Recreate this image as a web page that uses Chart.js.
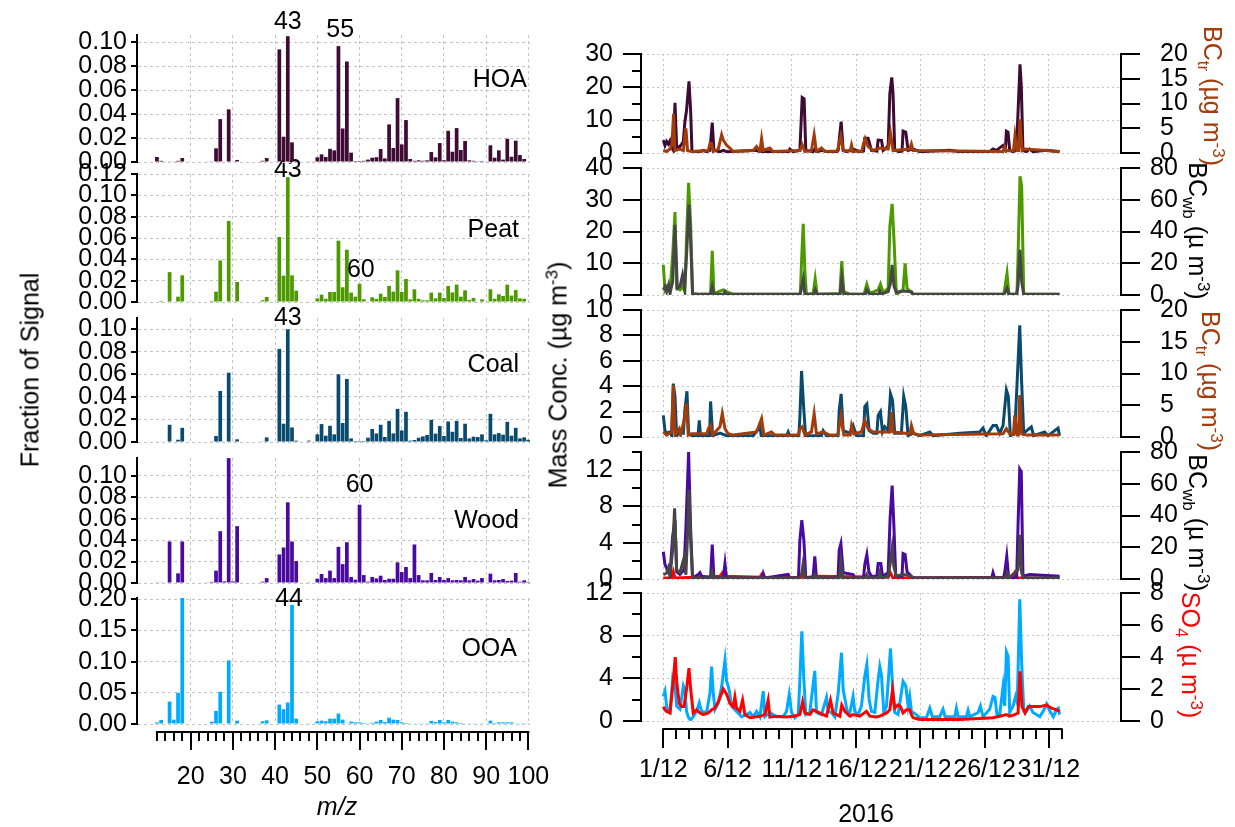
<!DOCTYPE html>
<html>
<head>
<meta charset="utf-8">
<script src="https://cdn.jsdelivr.net/npm/chart.js@4.4.1/dist/chart.umd.min.js"></script>
<style>
html, body { margin: 0; padding: 0; background: #fff; }
#wrap { position: relative; width: 1235px; height: 827px; overflow: hidden; font-family: 'Liberation Sans', Arial, sans-serif; }
#wrap canvas { position: absolute; left: 0; top: 0; }
.t { position: absolute; font-size: 25px; white-space: nowrap; color: #000; line-height: 1; }
.t sub, .t sup { font-size: 17px; line-height: 0; }
.c { transform: translate(-50%, -50%); }
.re { transform: translate(-100%, -50%); }
.r90 { transform: translate(-50%, -50%) rotate(90deg); }
.rm90 { transform: translate(-50%, -50%) rotate(-90deg); }
</style>
</head>
<body>
<div id="wrap">
  <div class="t rm90" style="left:30px;top:370px">Fraction of Signal</div>
  <div class="t rm90" style="left:558px;top:375px">Mass Conc. (µg m<sup>-3</sup>)</div>
  <div class="t c" style="left:337px;top:806px;font-style:italic">m/z</div>
  <div class="t c" style="left:866px;top:813px">2016</div>

  <div class="t re" style="left:527px;top:78px">HOA</div>
  <div class="t re" style="left:519px;top:228px">Peat</div>
  <div class="t re" style="left:519px;top:363px">Coal</div>
  <div class="t re" style="left:519px;top:519px">Wood</div>
  <div class="t re" style="left:517px;top:647px">OOA</div>

  <div class="t r90" style="left:1212px;top:96px;color:#a33c0b">BC<sub>tr</sub> (µg m<sup>-3</sup>)</div>
  <div class="t r90" style="left:1197px;top:231px">BC<sub>wb</sub> (µ m<sup>-3</sup>)</div>
  <div class="t r90" style="left:1210px;top:381px;color:#a33c0b">BC<sub>tr</sub> (µg m<sup>-3</sup>)</div>
  <div class="t r90" style="left:1197px;top:523px">BC<sub>wb</sub> (µ m<sup>-3</sup>)</div>
  <div class="t r90" style="left:1190px;top:655px;color:#ff0000">SO<sub>4</sub> (µ m<sup>-3</sup>)</div>
</div>
<script>
// ---- mass spectra, fraction of signal for m/z 12..100 ----
const mzStart = 12;
const hoaMS = [
  0.0042,0.001,0.0005,0.0005,0.0003,0.001,0.0033,0,0,0,
  0,0,0.0003,0.0005,0.0114,0.0358,0,0.0439,0,0.0017,
  0,0,0,0,0,0.001,0.0033,0,0,0.094,
  0.0211,0.105,0.0164,0.001,0,0,0.0003,0.0005,0.0039,0.0064,
  0.0042,0.011,0.0097,0.0967,0.028,0.0839,0.0078,0.0008,0.0008,0.001,
  0.002,0.0036,0.004,0.0108,0.003,0.0314,0.0117,0.0533,0.0147,0.035,
  0.0025,0.001,0.0014,0.001,0.0014,0.0083,0.0039,0.0158,0.0015,0.026,
  0.0086,0.0283,0.01,0.0175,0.0014,0.001,0.0006,0.0008,0,0.0139,
  0.0036,0.0097,0.002,0.0194,0.0044,0.0178,0.0058,0.0025,0
];
const peatMS = [
  0,0.001,0,0.028,0.0005,0.005,0.025,0,0,0,
  0,0,0.0005,0.001,0.0097,0.039,0.0005,0.076,0.0005,0.0188,
  0,0,0,0,0,0.0016,0.0047,0,0,0.061,
  0.0247,0.117,0.025,0.0106,0,0,0.0005,0.0005,0.0034,0.0069,
  0.003,0.0094,0.0094,0.0575,0.0138,0.049,0.0088,0.005,0.017,0.0025,
  0.0005,0.0044,0.003,0.0078,0.0047,0.015,0.0097,0.0297,0.0094,0.0216,
  0.0025,0.0119,0.003,0.0016,0.0016,0.0088,0.0034,0.0088,0.0038,0.015,
  0.009,0.0163,0.005,0.011,0.002,0.0038,0.0005,0.0025,0.0005,0.0119,
  0.003,0.0072,0.0056,0.0163,0.006,0.0113,0.0034,0.003,0
];
const coalMS = [
  0.0005,0.0005,0,0.0153,0,0.002,0.0126,0,0,0,
  0,0,0,0.0003,0.0053,0.0453,0,0.0615,0.0003,0.0024,
  0,0,0,0,0,0.0006,0.0041,0,0,0.0826,
  0.0162,0.1,0.0129,0.0012,0,0,0.0012,0,0.0068,0.0159,
  0.0056,0.0144,0.0068,0.06,0.0168,0.0559,0.0032,0.0009,0.0009,0.0009,
  0.0038,0.0115,0.0076,0.0153,0.0044,0.0188,0.0076,0.0294,0.0103,0.0268,
  0.0012,0.0018,0.0038,0.005,0.0062,0.0197,0.0074,0.0141,0.0053,0.0182,
  0.0091,0.0188,0.0035,0.0162,0.0032,0.0047,0.0044,0.0068,0.0015,0.025,
  0.0068,0.0079,0.0065,0.0179,0.0056,0.0126,0.0032,0.0041,0.002
];
const woodMS = [
  0.0003,0.0006,0,0.0387,0.0005,0.009,0.0387,0,0,0,
  0,0,0.0003,0.001,0.0115,0.0483,0.0015,0.1164,0.0015,0.053,
  0,0,0,0,0,0.0012,0.0046,0,0,0.0266,
  0.0331,0.0752,0.0387,0.0204,0,0,0.0006,0.0005,0.004,0.0084,
  0.0046,0.0115,0.0046,0.0337,0.0176,0.038,0.0056,0.0031,0.073,0.0074,
  0.0012,0.0056,0.0043,0.0068,0.0028,0.004,0.004,0.0192,0.0102,0.0149,
  0.0046,0.0359,0.0074,0.0025,0.0025,0.0093,0.0028,0.0056,0.0028,0.0046,
  0.0025,0.0028,0.0025,0.0056,0.0025,0.0037,0.0022,0.0046,0.0006,0.0087,
  0.0025,0.0028,0.0037,0.0019,0.0022,0.0093,0.0012,0.0025,0.001
];
const ooaMS = [
  0.0027,0.0065,0,0.036,0.007,0.05,0.203,0,0,0,
  0,0,0.001,0.0038,0.021,0.0516,0,0.102,0,0.0054,
  0,0,0,0,0,0.0043,0.0059,0,0,0.0312,
  0.0237,0.0344,0.191,0.0086,0,0,0.0005,0.001,0.0043,0.0054,
  0.0043,0.0086,0.0086,0.0167,0.007,0.001,0.0038,0.0027,0.0027,0.0016,
  0.001,0.002,0.0038,0.0065,0.0032,0.0102,0.007,0.0065,0.0027,0.0016,
  0.001,0.001,0.001,0.001,0.001,0.0048,0.0032,0.0065,0.0027,0.0065,
  0.0038,0.0027,0.0016,0.001,0.001,0.001,0.001,0.001,0.001,0.0054,
  0.0016,0.0027,0.0027,0.0027,0.0027,0.001,0.0005,0.0005,0.0005
];
// peak labels: [m/z, height, text]
const hoaPeaks = [[43, 0.117, '43'], [55.4, 0.110, '55']];
const peatPeaks = [[43, 0.1238, '43'], [60.3, 0.030, '60']];
const coalPeaks = [[43, 0.1097, '43']];
const woodPeaks = [[60, 0.0912, '60']];
const ooaPeaks = [[43.3, 0.200, '44']];
const mzMajor = [20, 30, 40, 50, 60, 70, 80, 90, 100];

// ---- time series: [days since 1 Dec 2016, value] ----
const hoaTS = [[0,3.9],[0.13,2.3],[0.26,3.5],[0.39,2.7],[0.52,3.7],[0.65,1.6],[0.78,0.8],[0.91,15.2],[1.04,1.6],[1.3,2.0],[1.43,2.7],[1.56,3.5],[1.68,9.4],[1.81,13.0],[2.0,21.7],[2.13,12.5],[2.23,0.8],[2.33,0.4],[2.85,0.4],[3.11,0.8],[3.37,0.4],[3.63,0.8],[3.81,9.2],[3.94,0.8],[4.41,0.4],[4.67,0.8],[4.92,0.4],[7.26,0.8],[7.52,0.4],[9.75,0.4],[9.85,1.2],[10.11,0.4],[10.63,0.8],[10.81,16.8],[10.96,16.4],[11.09,0.8],[11.66,0.4],[11.79,1.2],[11.92,0.4],[12.44,0.8],[12.7,0.4],[13.5,0.4],[13.61,0.8],[13.84,9.5],[14.0,0.8],[14.26,0.4],[14.77,1.2],[15.29,0.4],[15.58,0.6],[15.68,4.5],[15.94,4.5],[16.2,0.8],[16.62,0.6],[16.72,3.9],[16.98,3.8],[17.11,0.8],[17.37,1.6],[17.5,2.3],[17.63,18.0],[17.78,22.9],[17.88,18.0],[18.01,0.8],[18.4,0.4],[18.58,0.6],[18.66,6.6],[18.87,6.3],[19.05,0.8],[19.44,1.2],[19.96,0.4],[22.29,0.8],[23.07,0.4],[25.4,0.4],[25.66,1.2],[25.92,0.8],[26.44,2.3],[26.62,1.0],[26.7,6.6],[26.83,6.3],[26.96,0.8],[27.22,0.4],[27.48,0.8],[27.63,14.5],[27.76,26.9],[27.86,20.3],[27.99,0.8],[28.25,0.4],[28.51,1.2],[28.77,0.4],[29.8,0.8],[30.84,0.4]];
const bcTr1TS = [[0,0.5],[0.26,0.3],[0.52,0.8],[0.67,1.6],[0.8,7.9],[0.91,0.5],[1.3,0.8],[1.56,0.5],[1.76,5.0],[1.89,0.5],[2.2,0.3],[3.5,0.5],[3.63,1.9],[3.76,1.9],[3.89,0.3],[4.28,0.8],[4.54,3.7],[4.67,2.6],[4.92,1.6],[5.18,1.0],[5.44,0.3],[7.0,0.5],[7.26,1.3],[7.52,0.3],[7.65,2.9],[7.78,0.5],[8.29,1.0],[8.55,0.3],[10.63,0.5],[10.81,1.7],[11.02,0.3],[11.53,0.5],[11.74,3.7],[11.92,0.3],[12.31,1.0],[12.57,0.3],[13.5,0.4],[13.61,1.0],[13.82,3.4],[14.0,0.5],[14.55,0.4],[14.65,1.6],[14.77,0.3],[15.45,0.4],[15.55,1.6],[15.71,2.9],[15.94,1.3],[16.33,0.5],[16.85,1.0],[17.5,0.8],[17.68,4.0],[17.88,0.5],[19.18,0.8],[19.31,1.8],[19.44,0.5],[26.44,0.3],[26.57,1.3],[26.7,0.5],[27.25,0.4],[27.37,3.5],[27.53,0.5],[27.65,0.5],[27.76,6.8],[27.92,0.5],[28.15,0.8],[30.84,0.3]];
const peatTS = [[0,9.5],[0.13,1.6],[0.26,2.6],[0.52,1.1],[0.73,12.6],[0.91,26.1],[1.04,2.1],[1.3,1.6],[1.5,2.6],[1.68,1.1],[1.81,17.9],[1.97,35.3],[2.13,22.1],[2.28,0.5],[2.85,0.2],[3.68,0.2],[3.81,13.9],[3.94,0.5],[4.15,0.8],[4.67,1.6],[4.92,1.1],[5.44,0.2],[10.66,0.2],[10.78,12.6],[10.89,22.4],[11.02,7.4],[11.14,0.2],[11.66,0.5],[11.82,5.1],[11.97,0.2],[13.74,0.5],[13.89,10.7],[14.05,1.1],[14.52,0.2],[15.6,0.2],[15.68,1.1],[15.84,3.4],[16.07,0.5],[16.72,1.6],[16.9,3.4],[17.11,0.8],[17.5,2.1],[17.63,21.6],[17.81,28.7],[17.96,16.8],[18.14,0.2],[18.66,1.6],[18.82,10.0],[18.97,2.1],[19.44,0.2],[26.5,0.2],[26.75,6.8],[26.9,0.2],[27.52,0.2],[27.61,12.6],[27.76,37.4],[27.89,34.2],[28.05,0.2],[30.84,0.2]];
const bcWb2TS = [[0,3.2],[0.13,5.3],[0.26,2.1],[0.41,6.3],[0.52,1.1],[0.73,8.4],[0.91,44.2],[1.09,4.2],[1.3,5.3],[1.5,12.6],[1.66,4.2],[1.81,25.3],[2.0,56.8],[2.13,33.7],[2.28,0.4],[3.68,0.4],[3.81,5.3],[3.94,0.4],[4.7,0.4],[4.8,2.1],[4.92,0.4],[10.65,0.4],[10.78,5.3],[10.89,9.9],[11.02,0.4],[11.7,0.4],[11.82,3.2],[11.97,0.4],[13.76,0.4],[13.89,10.5],[14.05,0.4],[15.72,0.4],[15.84,3.2],[16.07,0.4],[16.75,0.4],[16.85,2.5],[16.95,0.6],[17.5,2.1],[17.68,7.4],[17.81,18.9],[17.96,5.3],[18.14,1.7],[18.66,2.5],[19.31,2.1],[19.44,0.4],[26.45,0.4],[26.57,1.1],[26.75,4.2],[26.9,0.4],[27.5,0.4],[27.61,6.3],[27.76,28.4],[27.89,8.4],[28.05,0.4],[30.84,0.4]];
const coalTS = [[0,1.7],[0.13,0.5],[0.26,0.3],[0.52,0.4],[0.65,0.1],[0.78,4.2],[0.91,3.2],[1.04,0.1],[1.3,0.4],[1.56,0.3],[1.68,2.1],[1.84,3.6],[1.97,0.3],[2.2,0.1],[2.7,0.1],[2.8,1.3],[2.9,0.1],[3.6,0.1],[3.68,2.8],[3.84,0.1],[4.41,0.3],[4.92,0.1],[7.0,0.1],[7.52,0.8],[7.62,0.1],[9.6,0.1],[9.72,0.4],[9.85,0.1],[10.55,0.1],[10.63,1.6],[10.76,5.2],[10.89,2.9],[11.07,0.1],[12.3,0.1],[12.44,0.5],[12.7,0.1],[13.6,0.1],[13.69,2.1],[13.84,3.4],[14.0,0.5],[14.52,0.3],[14.77,0.9],[15.03,0.1],[15.58,0.1],[15.68,2.4],[15.84,2.6],[16.02,0.5],[16.33,0.3],[16.62,0.3],[16.72,1.7],[16.9,2.0],[17.06,0.4],[17.24,0.8],[17.5,0.5],[17.68,3.4],[17.84,2.9],[18.01,0.3],[18.53,0.3],[18.71,3.2],[18.87,2.4],[19.05,0.1],[19.44,0.3],[19.96,0.1],[20.74,0.4],[21.0,0.1],[23.07,0.3],[24.62,0.4],[24.88,0.7],[25.14,0.1],[25.66,0.9],[25.92,0.9],[26.18,0.3],[26.44,0.9],[26.7,3.7],[26.85,3.2],[27.01,0.1],[27.35,0.3],[27.53,4.2],[27.74,8.8],[27.89,4.2],[28.05,0.3],[28.64,0.8],[28.82,0.1],[29.68,0.4],[29.94,0.1],[30.72,0.7],[30.84,0.1]];
const bcTr3TS = [[0,0.8],[0.26,0.3],[0.65,0.8],[0.78,8.2],[0.91,0.3],[1.24,1.3],[1.35,0.3],[1.68,3.2],[1.81,5.3],[1.94,0.3],[2.2,0.5],[3.4,0.5],[3.5,1.3],[3.68,1.8],[3.84,0.3],[4.41,1.6],[4.59,3.7],[4.8,1.3],[5.05,0.5],[5.44,0.3],[7.26,0.8],[7.65,2.9],[7.83,0.3],[8.42,0.8],[8.68,0.3],[10.5,0.3],[10.63,1.3],[10.81,1.6],[11.02,0.3],[11.53,0.8],[11.74,3.7],[11.92,0.5],[12.44,0.8],[12.96,0.3],[13.58,0.3],[13.69,1.6],[13.84,3.4],[14.05,0.3],[14.55,0.3],[14.65,1.8],[14.83,0.5],[15.42,0.8],[15.68,2.6],[15.94,1.3],[16.33,0.8],[17.63,0.8],[17.76,3.9],[17.88,0.8],[19.2,0.5],[19.31,1.8],[19.49,0.5],[19.96,0.3],[26.44,0.5],[26.7,1.3],[26.96,0.5],[27.25,0.4],[27.35,3.4],[27.53,0.3],[27.64,0.3],[27.74,6.6],[27.89,0.5],[28.25,0.3],[30.84,0.3]];
const woodTS = [[0,3.0],[0.13,1.6],[0.26,1.2],[0.39,0.7],[0.52,0.5],[0.73,4.7],[0.91,6.5],[1.04,0.8],[1.3,0.5],[1.61,1.0],[1.76,5.6],[1.97,14.0],[2.13,5.4],[2.28,0.1],[2.72,0.5],[2.85,0.7],[2.98,0.3],[3.68,0.1],[3.81,3.8],[3.94,0.1],[4.67,0.1],[4.8,1.7],[4.92,0.1],[7.7,0.1],[7.78,0.6],[7.91,0.1],[9.72,0.5],[9.85,0.1],[10.52,0.1],[10.63,4.3],[10.78,6.5],[10.94,4.3],[11.09,0.1],[11.66,0.2],[11.79,2.5],[11.92,0.1],[13.6,0.1],[13.69,3.2],[13.82,3.9],[14.0,0.7],[14.77,0.5],[14.9,0.1],[15.58,0.1],[15.68,1.6],[15.84,2.7],[16.0,0.8],[16.2,0.3],[16.62,0.3],[16.72,1.7],[16.93,1.7],[17.06,0.3],[17.5,0.7],[17.65,6.7],[17.81,10.3],[17.94,6.1],[18.09,0.3],[18.58,0.3],[18.66,2.8],[18.82,2.7],[18.97,0.8],[19.31,0.3],[19.44,0.1],[25.56,0.1],[25.66,0.7],[25.79,0.1],[26.47,0.1],[26.57,0.7],[26.73,2.5],[26.88,0.1],[27.5,0.1],[27.61,6.1],[27.74,12.1],[27.86,11.8],[27.99,0.3],[28.51,0.5],[30.84,0.3]];
const bcWb4TS = [[0,2.7],[0.26,3.8],[0.39,6.9],[0.52,1.7],[0.73,18.4],[0.88,44.5],[1.04,5.8],[1.3,3.8],[1.43,8.0],[1.61,13.2],[1.76,2.7],[1.87,24.4],[2.0,56.0],[2.13,24.4],[2.28,0.6],[3.68,0.6],[3.81,4.8],[3.94,0.6],[10.65,0.6],[10.78,3.8],[10.89,10.0],[11.04,0.6],[11.7,0.6],[11.82,2.7],[11.95,0.6],[13.7,0.6],[13.82,11.0],[13.97,0.6],[15.72,0.6],[15.84,2.7],[15.97,0.6],[16.75,0.6],[16.85,3.8],[16.97,0.6],[17.5,1.7],[17.7,12.1],[17.81,19.4],[17.94,7.9],[18.14,1.7],[18.53,2.7],[18.92,2.7],[19.31,1.7],[19.44,0.6],[26.62,0.6],[26.75,3.8],[26.88,0.6],[27.61,5.8],[27.76,27.8],[27.89,3.8],[28.05,0.6],[30.84,0.6]];
const red4TS = [[0,0.1],[0.65,0.1],[0.78,0.8],[0.91,0.1],[4.41,0.3],[4.61,0.7],[4.8,0.3],[7.52,0.2],[7.65,0.5],[7.83,0.1],[10.78,0.2],[10.89,0.4],[11.0,0.1],[11.82,0.3],[17.5,0.2],[17.63,0.8],[17.88,0.1],[27.22,0.2],[27.35,0.66],[27.53,0.1],[30.84,0.1]];
const ooaTS = [[0,2.3],[0.13,2.8],[0.26,1.4],[0.39,0.9],[0.52,0.8],[0.73,4.0],[0.91,3.3],[1.04,1.4],[1.3,1.1],[1.56,3.3],[1.68,2.9],[1.81,0.9],[1.97,0.3],[2.13,0.1],[2.33,0.4],[2.59,0.9],[2.8,1.7],[2.98,0.9],[3.37,0.8],[3.63,2.6],[3.76,5.1],[3.89,2.6],[4.02,1.1],[4.28,1.7],[4.54,3.2],[4.8,5.7],[4.92,3.8],[5.13,2.9],[5.31,1.4],[5.7,0.9],[6.09,0.4],[6.48,0.6],[6.74,0.8],[7.0,0.4],[7.26,0.9],[7.52,0.4],[7.78,2.8],[7.91,0.4],[8.29,0.8],[8.81,0.4],[9.33,0.4],[9.59,0.9],[9.8,2.5],[9.98,0.8],[10.24,0.3],[10.5,0.6],[10.63,3.9],[10.78,8.4],[10.94,3.9],[11.09,0.6],[11.4,0.8],[11.79,4.7],[11.92,0.8],[12.31,0.6],[12.7,2.2],[12.83,0.9],[13.09,0.8],[13.35,0.4],[13.61,2.6],[13.87,6.4],[14.0,2.9],[14.15,2.0],[14.31,0.9],[14.52,0.8],[14.77,2.3],[14.9,0.9],[15.16,0.6],[15.42,1.4],[15.68,4.2],[15.84,5.3],[16.02,2.0],[16.2,0.9],[16.46,0.8],[16.72,3.9],[16.85,5.1],[16.98,4.3],[17.16,0.8],[17.37,1.4],[17.5,3.6],[17.68,6.8],[17.84,3.3],[18.01,0.8],[18.27,0.6],[18.66,3.7],[18.87,3.3],[19.05,1.4],[19.18,2.3],[19.31,0.9],[19.7,0.6],[19.96,0.3],[20.48,0.3],[20.74,1.2],[20.94,0.4],[21.51,0.4],[21.77,1.1],[21.93,0.4],[22.68,0.4],[22.81,1.2],[22.94,0.4],[23.59,0.4],[23.72,1.0],[23.85,0.4],[24.5,0.8],[24.68,1.4],[24.88,0.4],[25.4,1.1],[25.66,2.3],[25.81,2.2],[25.97,0.6],[26.18,0.6],[26.44,3.2],[26.57,1.4],[26.7,6.5],[26.83,6.1],[26.96,0.8],[27.22,1.4],[27.42,2.3],[27.55,1.7],[27.74,11.4],[27.89,5.4],[28.05,1.1],[28.25,0.9],[28.51,1.4],[28.77,0.8],[29.03,0.6],[29.3,0.4],[29.56,0.9],[29.83,1.6],[30.09,0.9],[30.35,0.4],[30.61,1.1],[30.74,1.2],[30.84,0.6]];
const so4TS = [[0,0.9],[0.13,0.7],[0.26,0.6],[0.52,0.5],[0.78,2.5],[0.93,4.0],[1.04,2.5],[1.24,1.1],[1.43,0.9],[1.61,0.9],[1.81,2.0],[2.0,3.3],[2.13,2.0],[2.33,0.5],[2.59,0.7],[2.85,0.5],[3.11,0.4],[3.5,0.5],[3.76,0.7],[4.02,0.8],[4.28,1.2],[4.67,2.0],[4.92,1.7],[5.18,1.1],[5.44,0.9],[5.57,1.5],[5.7,0.8],[5.96,0.6],[6.17,1.3],[6.35,0.4],[6.74,0.2],[7.52,0.3],[7.91,0.4],[8.16,1.3],[8.29,0.25],[8.81,0.3],[9.59,0.25],[10.11,0.3],[10.63,0.4],[10.84,1.2],[11.02,0.5],[11.4,0.4],[11.66,0.7],[11.92,0.6],[12.44,0.4],[12.7,0.3],[13.01,1.3],[13.22,0.5],[13.74,0.3],[13.89,1.0],[14.13,0.6],[14.52,0.3],[14.77,0.4],[15.29,0.3],[15.81,0.6],[16.07,0.3],[16.59,0.25],[16.85,0.3],[17.37,0.5],[17.63,0.7],[17.84,1.95],[18.01,0.8],[18.27,1.0],[18.45,0.9],[18.66,0.5],[18.92,0.7],[19.18,0.7],[19.31,0.4],[19.44,0.2],[19.96,0.1],[23.07,0.1],[25.66,0.2],[26.18,0.3],[26.7,0.4],[26.96,0.3],[27.35,0.4],[27.61,0.5],[27.76,3.1],[27.92,0.9],[28.15,0.5],[28.41,0.9],[28.77,0.9],[29.3,0.9],[29.83,1.0],[30.22,0.8],[30.61,0.7],[30.84,0.6]];
const dayMajor = [0, 5, 10, 15, 20, 25, 30];

// ---- styling / layout ----
const W = 1235, H = 827;
const FONT = "'Liberation Sans', Arial, sans-serif";
const hoaC = '#3d0b34', peatC = '#4c9900', coalC = '#0b4a6f', woodC = '#4a0aa0', ooaC = '#00aaff';
const bcTrC = '#a33c0b', bcWbC = '#464646', so4C = '#ff0000';
const gridC = '#c4c4c4';

Chart.defaults.font.family = FONT;
Chart.defaults.font.size = 25;
Chart.defaults.color = '#000';
Chart.defaults.animation = false;

const wrap = document.getElementById('wrap');
function addCanvas() {
  const c = document.createElement('canvas');
  c.width = W; c.height = H;
  wrap.insertBefore(c, wrap.firstChild);
  return c;
}
const setTicks = vals => s => { s.ticks = vals.map(v => ({ value: v })); };
// fixed axis box sizes so the plot areas land where wanted (labels are clipped to these boxes)
const fixW = w => s => { s.width = w; };
const fixH = h => s => { s.height = h; };
const xy = arr => arr.map(p => ({ x: p[0], y: p[1] }));

// tick marks drawn by hand so minor ticks can be shorter
function marksPlugin(cfg) {
  return {
    id: 'marks',
    afterDraw(chart) {
      const ctx = chart.ctx, a = chart.chartArea;
      ctx.save();
      ctx.strokeStyle = '#000';
      ctx.lineWidth = 2;
      cfg.y.forEach(m => {
        const s = chart.scales[m.id];
        m.values.forEach(v => {
          const y = Math.round(s.getPixelForValue(v));
          const x0 = m.side === 'right' ? a.right : a.left;
          const x1 = m.side === 'right' ? x0 + m.len : x0 - m.len;
          ctx.beginPath(); ctx.moveTo(x0, y); ctx.lineTo(x1, y); ctx.stroke();
        });
      });
      if (cfg.comb) {
        const c = cfg.comb, s = chart.scales.x, y0 = a.bottom + c.gap;
        ctx.beginPath();
        ctx.moveTo(s.getPixelForValue(c.from) - 1, y0);
        ctx.lineTo(s.getPixelForValue(c.to) + 1, y0);
        ctx.stroke();
        for (let v = c.from; v <= c.to; v += c.step) {
          const x = Math.round(s.getPixelForValue(v));
          const len = v % c.majorMod === 0 ? c.majorLen : c.minorLen;
          ctx.beginPath(); ctx.moveTo(x, y0); ctx.lineTo(x, y0 + len); ctx.stroke();
        }
      }
      ctx.restore();
    }
  };
}
function peaksPlugin(items) {
  return {
    id: 'peaks',
    afterDatasetsDraw(chart) {
      const ctx = chart.ctx, sx = chart.scales.x, sy = chart.scales.y;
      ctx.save();
      ctx.font = '25px ' + FONT;
      ctx.fillStyle = '#000';
      ctx.textAlign = 'center';
      ctx.textBaseline = 'middle';
      items.forEach(p => ctx.fillText(p[2], sx.getPixelForValue(p[0]), sy.getPixelForValue(p[1])));
      ctx.restore();
    }
  };
}

const msYW = 130, msXH = 95;
function msChart(vals, color, box, ymax, yticks, peaks, showX) {
  const pts = vals.map((v, i) => ({ x: mzStart + i, y: v }));
  const xh = showX ? msXH : 0;
  new Chart(addCanvas(), {
    type: 'bar',
    data: { datasets: [{ data: pts, backgroundColor: color, borderWidth: 0, barPercentage: 0.88, categoryPercentage: 1 }] },
    options: {
      responsive: false,
      devicePixelRatio: 1,
      layout: { padding: { left: box.l - msYW, top: box.t, right: W - box.r, bottom: H - box.b - xh } },
      plugins: { legend: { display: false }, tooltip: { enabled: false } },
      scales: {
        x: {
          type: 'linear', offset: false, min: 7.28, max: 100.38,
          afterBuildTicks: setTicks(mzMajor), afterFit: fixH(xh),
          grid: { offset: false, color: gridC, drawTicks: false },
          border: { display: false, dash: [3, 3] },
          ticks: { display: showX, padding: 38, autoSkip: false, maxRotation: 0, minRotation: 0, callback: v => String(v) }
        },
        y: {
          min: 0, max: ymax,
          afterBuildTicks: setTicks(yticks), afterFit: fixW(msYW),
          grid: { color: gridC, drawTicks: false },
          border: { color: '#000', width: 2, dash: [3, 3] },
          ticks: { padding: 10, autoSkip: false, callback: v => v.toFixed(2) }
        }
      }
    },
    plugins: [
      marksPlugin({
        y: [{ id: 'y', values: yticks, len: 6, side: 'left' }],
        comb: showX ? { gap: 8, from: 12, to: 100, step: 2, majorMod: 10, majorLen: 18, minorLen: 9 } : null
      }),
      peaksPlugin(peaks)
    ]
  });
}

const tsYW = 100, tsY2W = 110, tsXH = 90;
function tsChart(box, left, right, series, showX) {
  const xh = showX ? tsXH : 0;
  new Chart(addCanvas(), {
    type: 'line',
    data: {
      datasets: series.map(s => ({
        data: xy(s.data), yAxisID: s.axis, borderColor: s.color, borderWidth: 3,
        pointRadius: 0, tension: 0, fill: false, order: s.order
      }))
    },
    options: {
      responsive: false,
      devicePixelRatio: 1,
      layout: { padding: { left: box.l - tsYW, top: box.t, right: W - box.r - tsY2W, bottom: H - box.b - xh } },
      plugins: { legend: { display: false }, tooltip: { enabled: false } },
      scales: {
        x: {
          type: 'linear', min: -1.735, max: 35.62,
          afterBuildTicks: setTicks(dayMajor), afterFit: fixH(xh),
          grid: { color: gridC, drawTicks: false },
          border: { display: false, dash: [2, 3] },
          ticks: { display: showX, padding: 34, autoSkip: false, maxRotation: 0, minRotation: 0, callback: v => (v + 1) + '/12' }
        },
        y: {
          position: 'left', min: 0, max: left.max,
          afterBuildTicks: setTicks(left.major), afterFit: fixW(tsYW),
          grid: { color: gridC, drawTicks: false },
          border: { color: '#000', width: 2, dash: [2, 3] },
          ticks: { padding: 28, autoSkip: false, callback: v => String(v) }
        },
        y2: {
          position: 'right', min: 0, max: right.max,
          afterBuildTicks: setTicks(right.major), afterFit: fixW(tsY2W),
          grid: { drawOnChartArea: false, drawTicks: false },
          border: { color: '#000', width: 2 },
          ticks: { padding: right.pad, autoSkip: false, callback: v => String(v) }
        }
      }
    },
    plugins: [
      marksPlugin({
        y: [
          { id: 'y', values: left.major, len: 18, side: 'left' },
          { id: 'y', values: left.minor, len: 9, side: 'left' },
          { id: 'y2', values: right.major, len: 19, side: 'right' }
        ],
        comb: showX ? { gap: 8, from: 0, to: 31, step: 1, majorMod: 5, majorLen: 19, minorLen: 10 } : null
      })
    ]
  });
}

// ---- left column: factor mass spectra ----
const msL = 137, msR = 530;
msChart(hoaMS, hoaC, { l: msL, r: msR, t: 35, b: 162 }, 0.106, [0, 0.02, 0.04, 0.06, 0.08, 0.10], hoaPeaks, false);
msChart(peatMS, peatC, { l: msL, r: msR, t: 174, b: 302 }, 0.12, [0, 0.02, 0.04, 0.06, 0.08, 0.10, 0.12], peatPeaks, false);
msChart(coalMS, coalC, { l: msL, r: msR, t: 318, b: 442 }, 0.11, [0, 0.02, 0.04, 0.06, 0.08, 0.10], coalPeaks, false);
msChart(woodMS, woodC, { l: msL, r: msR, t: 458, b: 583 }, 0.1165, [0, 0.02, 0.04, 0.06, 0.08, 0.10], woodPeaks, false);
msChart(ooaMS, ooaC, { l: msL, r: msR, t: 598, b: 724 }, 0.202, [0, 0.05, 0.10, 0.15, 0.20], ooaPeaks, true);

// ---- right column: time series ----
const tsL = 641, tsR = 1121;
tsChart({ l: tsL, r: tsR, t: 25, b: 153 },
  { max: 30, major: [0, 10, 20, 30], minor: [5, 15, 25] },
  { max: 20, major: [0, 5, 10, 15, 20], pad: 39 },
  [{ data: bcTr1TS, axis: 'y2', color: bcTrC, order: 0 }, { data: hoaTS, axis: 'y', color: hoaC, order: 1 }], false);
tsChart({ l: tsL, r: tsR, t: 168, b: 295 },
  { max: 40, major: [0, 10, 20, 30, 40], minor: [] },
  { max: 80, major: [0, 20, 40, 60, 80], pad: 29 },
  [{ data: bcWb2TS, axis: 'y2', color: bcWbC, order: 0 }, { data: peatTS, axis: 'y', color: peatC, order: 1 }], false);
tsChart({ l: tsL, r: tsR, t: 310, b: 437 },
  { max: 10, major: [0, 2, 4, 6, 8, 10], minor: [] },
  { max: 20, major: [0, 5, 10, 15, 20], pad: 39 },
  [{ data: bcTr3TS, axis: 'y2', color: bcTrC, order: 0 }, { data: coalTS, axis: 'y', color: coalC, order: 1 }], false);
tsChart({ l: tsL, r: tsR, t: 452, b: 579 },
  { max: 14, major: [0, 4, 8, 12], minor: [2, 6, 10, 14] },
  { max: 80, major: [0, 20, 40, 60, 80], pad: 29 },
  [{ data: bcWb4TS, axis: 'y2', color: bcWbC, order: 0 }, { data: woodTS, axis: 'y', color: woodC, order: 1 }, { data: red4TS, axis: 'y', color: so4C, order: 2 }], false);
tsChart({ l: tsL, r: tsR, t: 593, b: 721 },
  { max: 12, major: [0, 4, 8, 12], minor: [2, 6, 10] },
  { max: 8, major: [0, 2, 4, 6, 8], pad: 29 },
  [{ data: so4TS, axis: 'y2', color: so4C, order: 0 }, { data: ooaTS, axis: 'y', color: ooaC, order: 1 }], true);
</script>
</body>
</html>
